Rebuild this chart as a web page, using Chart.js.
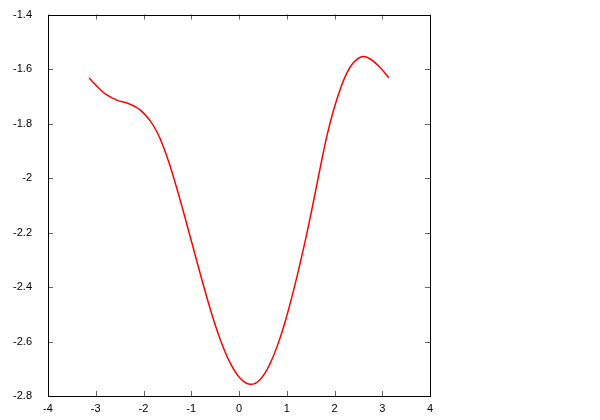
<!DOCTYPE html>
<html>
<head>
<meta charset="utf-8">
<script src="https://cdn.jsdelivr.net/npm/chart.js@4"></script>
<style>
  body { margin: 0; background: #fff; }
  #wrap { width: 600px; height: 420px; }
</style>
</head>
<body>
<div id="wrap"><canvas id="chart"></canvas></div>
<script>
// values
var xs = [-3.14, -2.91, -2.77, -2.56, -2.28, -2.07, -1.86, -1.72, -1.59, -1.45, -1.31, -1.17, -1.03, -0.82, -0.61, -0.40, -0.19, 0.02, 0.23, 0.44, 0.65, 0.86, 1.00, 1.14, 1.28, 1.42, 1.56, 1.70, 1.84, 1.98, 2.12, 2.26, 2.39, 2.57, 2.74, 2.95, 3.14]
var ys = [-1.633, -1.674, -1.695, -1.714, -1.729, -1.750, -1.790, -1.830, -1.882, -1.952, -2.033, -2.120, -2.210, -2.346, -2.476, -2.589, -2.677, -2.734, -2.757, -2.740, -2.681, -2.587, -2.506, -2.414, -2.313, -2.204, -2.086, -1.963, -1.846, -1.751, -1.674, -1.614, -1.578, -1.555, -1.562, -1.593, -1.633]
var xTicks = [-4, -3, -2, -1, 0, 1, 2, 3, 4]
var yTicks = [-2.8, -2.6, -2.4, -2.2, -2, -1.8, -1.6, -1.4]

var points = []
for (var i = 0; i < xs.length; i++) {
    points.push({x: xs[i], y: ys[i]})
}

// gnuplot style frame with inward ticks on all sides
var framePlugin = {
    id: 'frame',
    afterDraw: function(chart) {
        var ctx = chart.ctx
        var a = chart.chartArea
        var sx = chart.scales.x
        var sy = chart.scales.y
        var len = 5
        ctx.save()
        ctx.strokeStyle = '#666'
        ctx.lineWidth = 1
        ctx.beginPath()
        for (var i = 0; i < xTicks.length; i++) {
            var px = Math.round(sx.getPixelForValue(xTicks[i])) + 0.5
            ctx.moveTo(px, a.bottom)
            ctx.lineTo(px, a.bottom - len)
            ctx.moveTo(px, a.top)
            ctx.lineTo(px, a.top + len)
        }
        for (var j = 0; j < yTicks.length; j++) {
            var py = Math.round(sy.getPixelForValue(yTicks[j])) + 0.5
            ctx.moveTo(a.left, py)
            ctx.lineTo(a.left + len, py)
            ctx.moveTo(a.right, py)
            ctx.lineTo(a.right - len, py)
        }
        ctx.stroke()
        ctx.strokeStyle = '#000'
        ctx.strokeRect(Math.round(a.left) + 0.5, Math.round(a.top) + 0.5,
            Math.round(a.right - a.left), Math.round(a.bottom - a.top))
        ctx.restore()
    }
}

new Chart(document.getElementById('chart'), {
    type: 'line',
    data: {
        datasets: [{
            data: points,
            borderColor: '#ff0000',
            borderWidth: 1.5,
            pointRadius: 0,
            fill: false,
            tension: 0.4
        }]
    },
    options: {
        responsive: true,
        maintainAspectRatio: false,
        animation: false,
        layout: { padding: { top: 14, right: 170, left: 0, bottom: 0 } },
        plugins: { legend: { display: false }, tooltip: { enabled: false } },
        scales: {
            x: {
                type: 'linear',
                min: -4,
                max: 4,
                afterBuildTicks: function(s) { s.ticks = xTicks.map(function(v) { return {value: v} }) },
                afterFit: function(s) { s.height = 24 },
                grid: { display: false },
                border: { display: false },
                ticks: { color: '#000', padding: -2, maxRotation: 0, font: { family: 'Liberation Sans', size: 11 } }
            },
            y: {
                type: 'linear',
                min: -2.8,
                max: -1.4,
                afterBuildTicks: function(s) { s.ticks = yTicks.map(function(v) { return {value: v} }) },
                afterFit: function(s) { s.width = 48 },
                grid: { display: false },
                border: { display: false },
                ticks: { color: '#000', padding: 8, font: { family: 'Liberation Sans', size: 11 },
                    callback: function(v) { return String(v) } }
            }
        }
    },
    plugins: [framePlugin]
})
</script>
</body>
</html>
